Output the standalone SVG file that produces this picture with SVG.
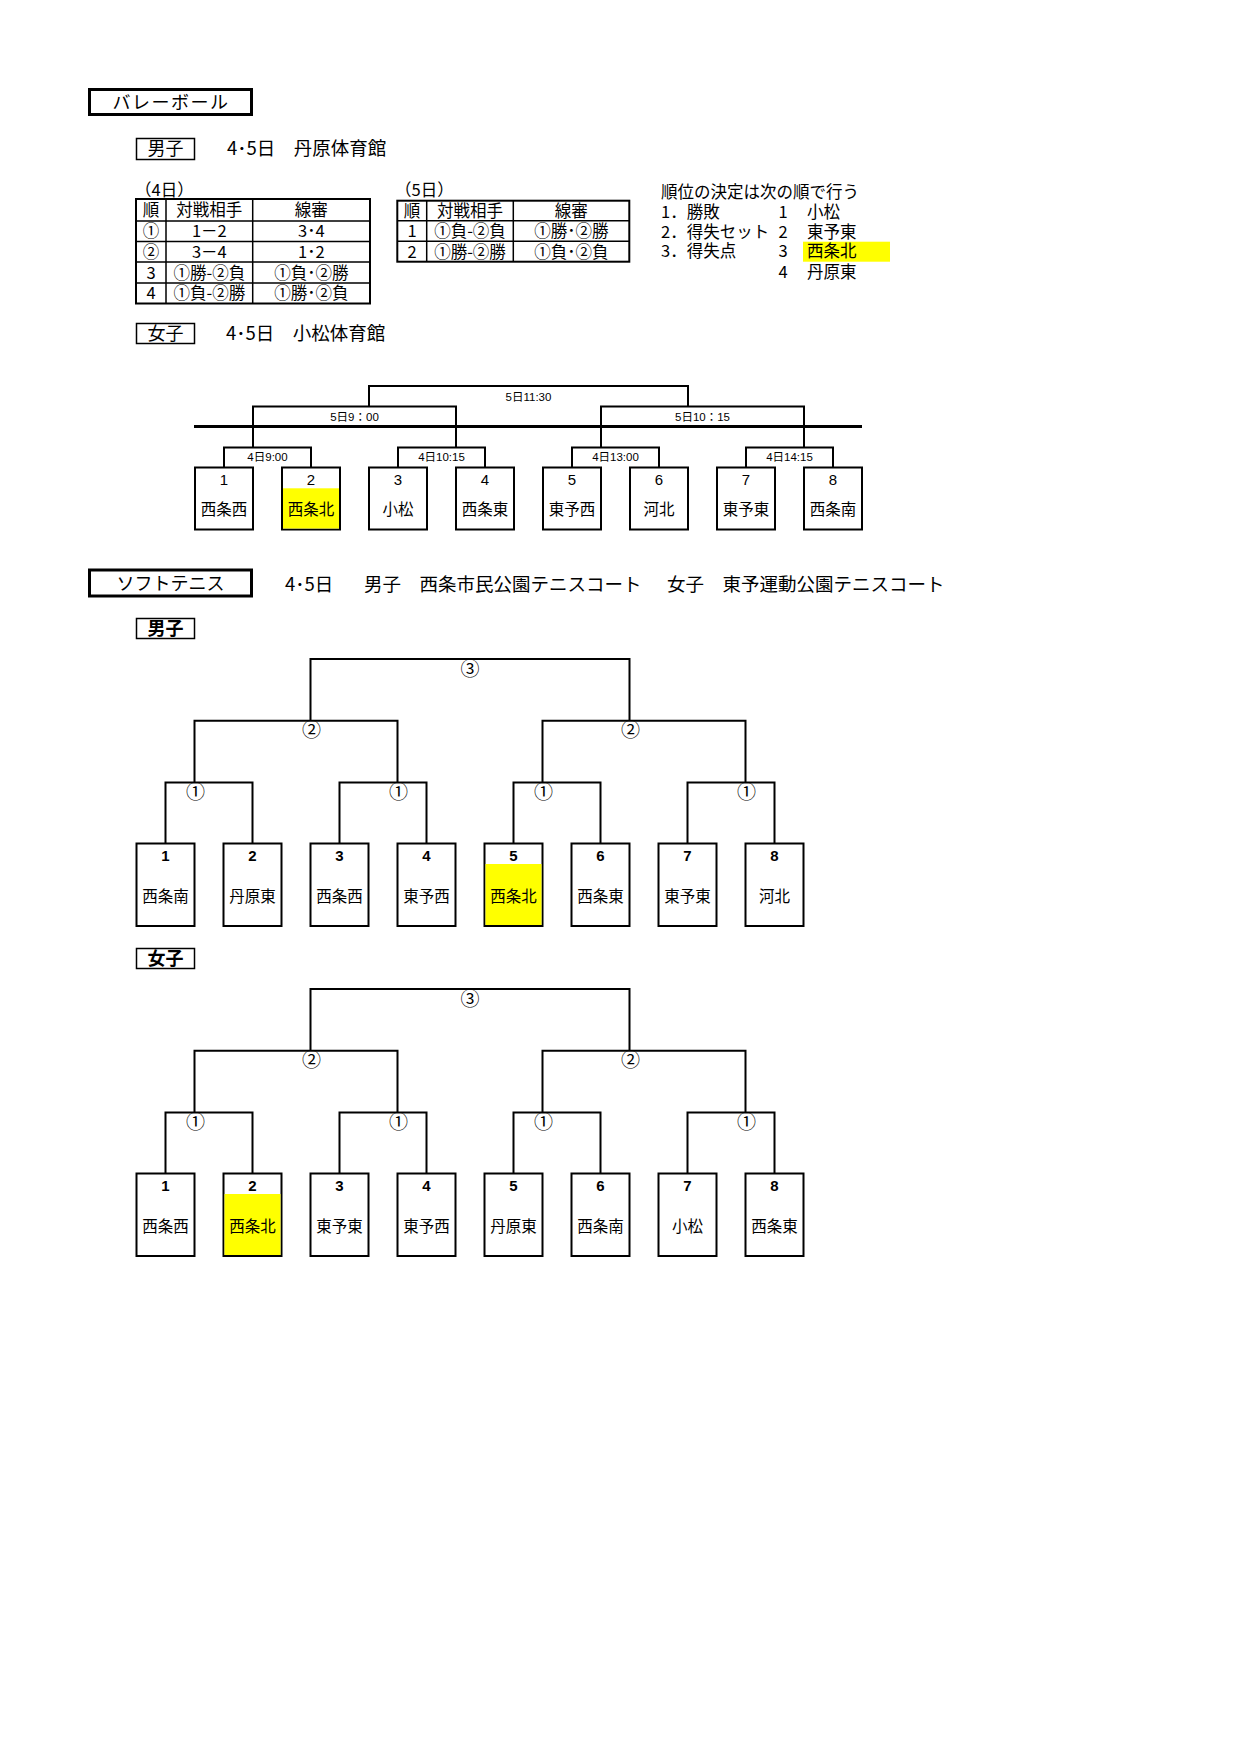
<svg xmlns="http://www.w3.org/2000/svg" width="1240" height="1754" viewBox="0 0 1240 1754">
<style>
text{font-family:"Noto Sans CJK JP","Liberation Sans",sans-serif;fill:#000}
.ttl{font-size:18px}
.sub{font-size:18.5px}
.tb{font-size:16.5px}
.tc{text-anchor:middle}
.lbl{font-size:11.5px;text-anchor:middle;font-family:"Liberation Sans","Noto Sans CJK JP",sans-serif}
.num{font-size:15px;text-anchor:middle;font-family:"Liberation Sans Narrow","Liberation Sans",sans-serif}
.snum{font-size:15px;font-weight:bold;text-anchor:middle;font-family:"Liberation Sans Narrow","Liberation Sans",sans-serif}
.nm{font-size:15.5px;text-anchor:middle}
.cir{font-size:19px;text-anchor:middle;font-family:"Noto Sans CJK JP","DejaVu Sans",sans-serif}
.box{fill:#fff;stroke:#000;stroke-width:2}
.hl{fill:#ffff00}
.ln{fill:none;stroke:#000;stroke-width:2}
.thk{fill:none;stroke:#000;stroke-width:3}
.thn{fill:none;stroke:#000;stroke-width:1.5}
</style>
<rect width="1240" height="1754" fill="#fff"/>

<!-- Volleyball header -->
<g id="volleyball-title">
<rect class="thk" x="89.5" y="89.5" width="162" height="25"/>
<text class="ttl tc" x="171" y="108.5" letter-spacing="1.5">バレーボール</text>
</g>
<g id="vb-boys-label">
<rect class="thn" x="136.5" y="138.5" width="58" height="21"/>
<text class="ttl tc" x="165.5" y="155">男子</text>
<text class="sub" x="227" y="155">4･5日　丹原体育館</text>
</g>

<!-- Table 4日 -->
<g id="table-day4">
<text class="tb" x="135" y="196">（4日）</text>
<rect class="ln" x="136" y="199" width="234" height="104.5"/>
<path class="thn" d="M136 221H370M136 241.5H370M136 262H370M136 283H370M166 199V303.5M252.7 199V303.5"/>
<text class="tb tc" x="151" y="216">順</text>
<text class="tb tc" x="209.3" y="216">対戦相手</text>
<text class="tb tc" x="311.3" y="216">線審</text>
<text class="tb tc" x="151" y="237">①</text>
<text class="tb tc" x="209.3" y="237">1－2</text>
<text class="tb tc" x="311.3" y="237">3･4</text>
<text class="tb tc" x="151" y="257.5">②</text>
<text class="tb tc" x="209.3" y="257.5">3－4</text>
<text class="tb tc" x="311.3" y="257.5">1･2</text>
<text class="tb tc" x="151" y="278.5">3</text>
<text class="tb tc" x="209.3" y="278.5">①勝-②負</text>
<text class="tb tc" x="311.3" y="278.5">①負･②勝</text>
<text class="tb tc" x="151" y="299">4</text>
<text class="tb tc" x="209.3" y="299">①負-②勝</text>
<text class="tb tc" x="311.3" y="299">①勝･②負</text>
</g>

<!-- Table 5日 -->
<g id="table-day5">
<text class="tb" x="395" y="196">（5日）</text>
<rect class="ln" x="397.3" y="200.7" width="232" height="61"/>
<path class="thn" d="M397.3 220.7H629.3M397.3 241.2H629.3M426.7 200.7V261.7M513.3 200.7V261.7"/>
<text class="tb tc" x="412" y="217">順</text>
<text class="tb tc" x="470" y="217">対戦相手</text>
<text class="tb tc" x="571.3" y="217">線審</text>
<text class="tb tc" x="412" y="237">1</text>
<text class="tb tc" x="470" y="237">①負-②負</text>
<text class="tb tc" x="571.3" y="237">①勝･②勝</text>
<text class="tb tc" x="412" y="257.5">2</text>
<text class="tb tc" x="470" y="257.5">①勝-②勝</text>
<text class="tb tc" x="571.3" y="257.5">①負･②負</text>
</g>

<!-- Ranking -->
<g id="ranking">
<rect class="hl" x="803" y="241.7" width="87" height="20"/>
<text class="tb" x="661" y="197.5">順位の決定は次の順で行う</text>
<text class="tb" x="661" y="217.5">1．勝敗</text>
<text class="tb" x="661" y="237.5">2．得失セット</text>
<text class="tb" x="661" y="257">3．得失点</text>
<text class="tb tc" x="783" y="217.5">1</text>
<text class="tb tc" x="783" y="237.5">2</text>
<text class="tb tc" x="783" y="257">3</text>
<text class="tb tc" x="783" y="277.5">4</text>
<text class="tb" x="807" y="217.5">小松</text>
<text class="tb" x="807" y="237.5">東予東</text>
<text class="tb" x="807" y="257">西条北</text>
<text class="tb" x="807" y="277.5">丹原東</text>
</g>

<g id="vb-girls-label">
<rect class="thn" x="136.5" y="323.5" width="58" height="20"/>
<text class="ttl tc" x="165.5" y="340">女子</text>
<text class="sub" x="226" y="340">4･5日　小松体育館</text>
</g>

<!-- Volleyball girls bracket connectors -->
<g id="vb-connectors">
<path class="ln" d="M369 406.5V386H688V406.5"/>
<path class="ln" d="M253 447.5V406.5H456V447.5"/>
<path class="ln" d="M601 447.5V406.5H804V447.5"/>
<path class="ln" d="M224 467.5V447.5H311V467.5"/>
<path class="ln" d="M398 467.5V447.5H485V467.5"/>
<path class="ln" d="M572 467.5V447.5H659V467.5"/>
<path class="ln" d="M746 467.5V447.5H833V467.5"/>
<path class="thk" d="M194 426.5H862"/>
<text class="lbl" x="528.5" y="401">5日11:30</text>
<text class="lbl" x="354.5" y="421">5日9：00</text>
<text class="lbl" x="702.5" y="421">5日10：15</text>
<text class="lbl" x="267.5" y="461">4日9:00</text>
<text class="lbl" x="441.5" y="461">4日10:15</text>
<text class="lbl" x="615.5" y="461">4日13:00</text>
<text class="lbl" x="789.5" y="461">4日14:15</text>
</g>

<g id="vb-team1"><rect class="box" x="195" y="467.5" width="58" height="62"/><text class="num" x="224" y="484.5">1</text><text class="nm" x="224" y="515">西条西</text></g>
<g id="vb-team2"><rect class="box" x="282" y="467.5" width="58" height="62"/><rect class="hl" x="283" y="488.3" width="56" height="40.2"/><text class="num" x="311" y="484.5">2</text><text class="nm" x="311" y="515">西条北</text></g>
<g id="vb-team3"><rect class="box" x="369" y="467.5" width="58" height="62"/><text class="num" x="398" y="484.5">3</text><text class="nm" x="398" y="515">小松</text></g>
<g id="vb-team4"><rect class="box" x="456" y="467.5" width="58" height="62"/><text class="num" x="485" y="484.5">4</text><text class="nm" x="485" y="515">西条東</text></g>
<g id="vb-team5"><rect class="box" x="543" y="467.5" width="58" height="62"/><text class="num" x="572" y="484.5">5</text><text class="nm" x="572" y="515">東予西</text></g>
<g id="vb-team6"><rect class="box" x="630" y="467.5" width="58" height="62"/><text class="num" x="659" y="484.5">6</text><text class="nm" x="659" y="515">河北</text></g>
<g id="vb-team7"><rect class="box" x="717" y="467.5" width="58" height="62"/><text class="num" x="746" y="484.5">7</text><text class="nm" x="746" y="515">東予東</text></g>
<g id="vb-team8"><rect class="box" x="804" y="467.5" width="58" height="62"/><text class="num" x="833" y="484.5">8</text><text class="nm" x="833" y="515">西条南</text></g>

<!-- Soft tennis header -->
<g id="tennis-title">
<rect class="thk" x="89.5" y="570" width="162" height="26"/>
<text class="ttl tc" x="170.5" y="589.5">ソフトテニス</text>
<text class="sub" x="285" y="591">4･5日</text>
<text class="sub" x="364" y="591">男子　西条市民公園テニスコート</text>
<text class="sub" x="667" y="591">女子　東予運動公園テニスコート</text>
</g>

<g id="st-boys-label">
<rect class="thn" x="136.5" y="618.5" width="58" height="20"/>
<text class="ttl tc" x="165.5" y="635" font-weight="bold">男子</text>
</g>

<g id="st-boys-connectors">
<path class="ln" d="M310.5 720.7V659H629.5V720.7"/>
<path class="ln" d="M194.5 782.5V720.7H397.5V782.5"/>
<path class="ln" d="M542.5 782.5V720.7H745.5V782.5"/>
<path class="ln" d="M165.5 843.5V782.5H252.5V843.5"/>
<path class="ln" d="M339.5 843.5V782.5H426.5V843.5"/>
<path class="ln" d="M513.5 843.5V782.5H600.5V843.5"/>
<path class="ln" d="M687.5 843.5V782.5H774.5V843.5"/>
<text class="cir" x="470" y="675.5">③</text>
<text class="cir" x="311.5" y="737">②</text>
<text class="cir" x="630.5" y="737">②</text>
<text class="cir" x="195.5" y="798.5">①</text>
<text class="cir" x="398.5" y="798.5">①</text>
<text class="cir" x="543.5" y="798.5">①</text>
<text class="cir" x="746.5" y="798.5">①</text>
</g>

<g id="st-boys-team1"><rect class="box" x="136.5" y="843.5" width="58" height="82.5"/><text class="snum" x="165.5" y="860.5">1</text><text class="nm" x="165.5" y="902">西条南</text></g>
<g id="st-boys-team2"><rect class="box" x="223.5" y="843.5" width="58" height="82.5"/><text class="snum" x="252.5" y="860.5">2</text><text class="nm" x="252.5" y="902">丹原東</text></g>
<g id="st-boys-team3"><rect class="box" x="310.5" y="843.5" width="58" height="82.5"/><text class="snum" x="339.5" y="860.5">3</text><text class="nm" x="339.5" y="902">西条西</text></g>
<g id="st-boys-team4"><rect class="box" x="397.5" y="843.5" width="58" height="82.5"/><text class="snum" x="426.5" y="860.5">4</text><text class="nm" x="426.5" y="902">東予西</text></g>
<g id="st-boys-team5"><rect class="box" x="484.5" y="843.5" width="58" height="82.5"/><rect class="hl" x="485.5" y="864" width="56" height="61"/><text class="snum" x="513.5" y="860.5">5</text><text class="nm" x="513.5" y="902">西条北</text></g>
<g id="st-boys-team6"><rect class="box" x="571.5" y="843.5" width="58" height="82.5"/><text class="snum" x="600.5" y="860.5">6</text><text class="nm" x="600.5" y="902">西条東</text></g>
<g id="st-boys-team7"><rect class="box" x="658.5" y="843.5" width="58" height="82.5"/><text class="snum" x="687.5" y="860.5">7</text><text class="nm" x="687.5" y="902">東予東</text></g>
<g id="st-boys-team8"><rect class="box" x="745.5" y="843.5" width="58" height="82.5"/><text class="snum" x="774.5" y="860.5">8</text><text class="nm" x="774.5" y="902">河北</text></g>

<g id="st-girls-label">
<rect class="thn" x="136.5" y="948.5" width="58" height="20"/>
<text class="ttl tc" x="165.5" y="965" font-weight="bold">女子</text>
</g>

<g id="st-girls-connectors">
<path class="ln" d="M310.5 1050.7V989H629.5V1050.7"/>
<path class="ln" d="M194.5 1112.5V1050.7H397.5V1112.5"/>
<path class="ln" d="M542.5 1112.5V1050.7H745.5V1112.5"/>
<path class="ln" d="M165.5 1173.5V1112.5H252.5V1173.5"/>
<path class="ln" d="M339.5 1173.5V1112.5H426.5V1173.5"/>
<path class="ln" d="M513.5 1173.5V1112.5H600.5V1173.5"/>
<path class="ln" d="M687.5 1173.5V1112.5H774.5V1173.5"/>
<text class="cir" x="470" y="1005.5">③</text>
<text class="cir" x="311.5" y="1067">②</text>
<text class="cir" x="630.5" y="1067">②</text>
<text class="cir" x="195.5" y="1128.5">①</text>
<text class="cir" x="398.5" y="1128.5">①</text>
<text class="cir" x="543.5" y="1128.5">①</text>
<text class="cir" x="746.5" y="1128.5">①</text>
</g>

<g id="st-girls-team1"><rect class="box" x="136.5" y="1173.5" width="58" height="82.5"/><text class="snum" x="165.5" y="1190.5">1</text><text class="nm" x="165.5" y="1232">西条西</text></g>
<g id="st-girls-team2"><rect class="box" x="223.5" y="1173.5" width="58" height="82.5"/><rect class="hl" x="224.5" y="1194" width="56" height="61"/><text class="snum" x="252.5" y="1190.5">2</text><text class="nm" x="252.5" y="1232">西条北</text></g>
<g id="st-girls-team3"><rect class="box" x="310.5" y="1173.5" width="58" height="82.5"/><text class="snum" x="339.5" y="1190.5">3</text><text class="nm" x="339.5" y="1232">東予東</text></g>
<g id="st-girls-team4"><rect class="box" x="397.5" y="1173.5" width="58" height="82.5"/><text class="snum" x="426.5" y="1190.5">4</text><text class="nm" x="426.5" y="1232">東予西</text></g>
<g id="st-girls-team5"><rect class="box" x="484.5" y="1173.5" width="58" height="82.5"/><text class="snum" x="513.5" y="1190.5">5</text><text class="nm" x="513.5" y="1232">丹原東</text></g>
<g id="st-girls-team6"><rect class="box" x="571.5" y="1173.5" width="58" height="82.5"/><text class="snum" x="600.5" y="1190.5">6</text><text class="nm" x="600.5" y="1232">西条南</text></g>
<g id="st-girls-team7"><rect class="box" x="658.5" y="1173.5" width="58" height="82.5"/><text class="snum" x="687.5" y="1190.5">7</text><text class="nm" x="687.5" y="1232">小松</text></g>
<g id="st-girls-team8"><rect class="box" x="745.5" y="1173.5" width="58" height="82.5"/><text class="snum" x="774.5" y="1190.5">8</text><text class="nm" x="774.5" y="1232">西条東</text></g>
</svg>
